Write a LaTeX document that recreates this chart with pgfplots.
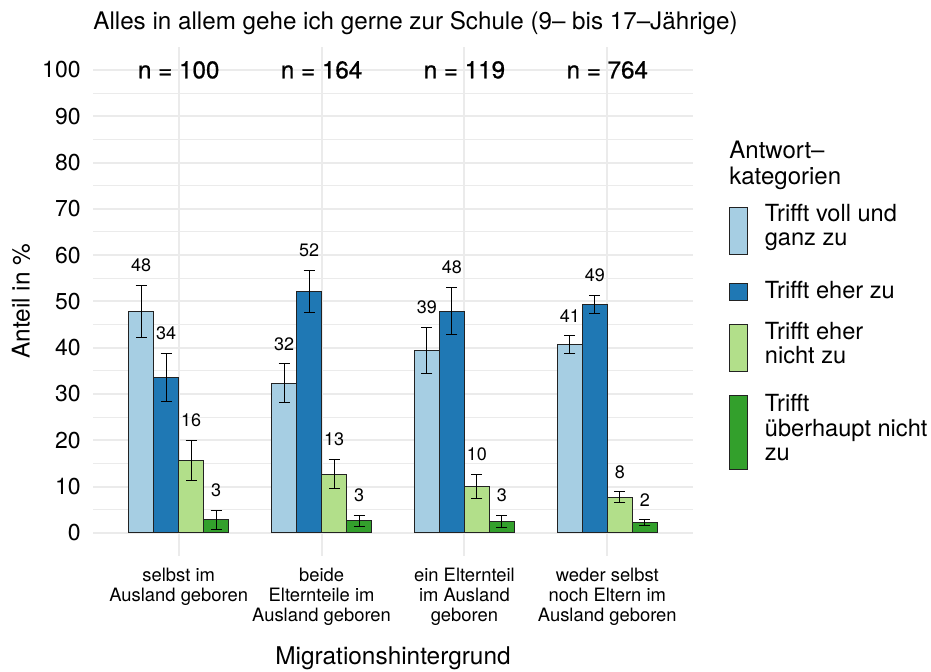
\documentclass[border=0pt]{standalone}
\usepackage{fontspec}
\setmainfont{TeX Gyre Heros}
\newfontface\nfont{TeX Gyre Heros}[FakeBold=0.8]
\usepackage{pgfplots}
\usepackage{pgfplotstable}
\pgfplotsset{compat=1.18}

\definecolor{cA}{HTML}{A6CEE3}
\definecolor{cB}{HTML}{1F78B4}
\definecolor{cC}{HTML}{B2DF8A}
\definecolor{cD}{HTML}{33A02C}
\definecolor{gridc}{HTML}{EBEBEB}
\definecolor{edge}{HTML}{222222}

% legend text: vertically centred on the key, without taking up row height
\newcommand\lgd[2][-2.9pt]{\raisebox{#1}{\smash{\begin{tabular}[c]{@{}l@{}}#2\end{tabular}}}}

% x = Balkenmitte (Gruppe +/- Versatz), y = Anteil, e = Fehler (+/-), lab = Beschriftung
\pgfplotstableread{
x y e lab
0.7375 47.9 5.6 48
1.7375 32.3 4.2 32
2.7375 39.4 4.95 39
3.7375 40.6 1.95 41
}\tA
\pgfplotstableread{
x y e lab
0.9125 33.5 5.2 34
1.9125 52.2 4.5 52
2.9125 47.9 5.1 48
3.9125 49.3 2.0 49
}\tB
\pgfplotstableread{
x y e lab
1.0875 15.6 4.35 16
2.0875 12.7 3.1 13
3.0875 10.0 2.6 10
4.0875 7.7 1.15 8
}\tC
\pgfplotstableread{
x y e lab
1.2625 2.8 2.05 3
2.2625 2.6 1.2 3
3.2625 2.5 1.3 3
4.2625 2.2 0.65 2
}\tD

\pgfplotsset{
  mybar/.style={
    ybar, bar width=12.5pt, bar shift=0pt,
    draw=edge, line width=0.5pt, fill=#1,
    error bars/y dir=both, error bars/y explicit,
    error bars/error bar style={black, line width=0.5pt},
    error bars/error mark options={rotate=90, mark size=2.75pt, line width=0.5pt, black},
    nodes near coords, point meta=explicit,
    visualization depends on={\thisrow{e}\as\err},
    every node near coord/.append style={font=\fontsize{9}{9}\selectfont, text=black,
      anchor=south, inner sep=0pt, yshift={\err*2.3145+6.5}},
  },
  % key: fill colour, half height, extra blank room above the key
  mykey/.style n args={3}{
    legend image code/.code={\path[draw=none, fill=none] (0pt,-#2) -- (0pt,#2+#3);
      \draw[fill=#1, draw=edge, line width=0.5pt] (0pt,-#2) rectangle (8.75pt,#2);}
  },
}

\begin{document}
\begin{tikzpicture}
\path[use as bounding box] (0,0) rectangle (465.5pt,336pt);
\begin{axis}[
    at={(46.5pt,58pt)}, anchor=south west,
    scale only axis, width=300pt, height=254.6pt,
    xmin=0.4, xmax=4.6, ymin=-5, ymax=105,
    clip=false,
    axis line style={draw=none},
    major tick length=0pt, minor tick length=0pt,
    xtick={1,2,3,4},
    xticklabels={{selbst im\\Ausland geboren},{beide\\Elternteile im\\Ausland geboren},{ein Elternteil\\im Ausland\\geboren},{weder selbst\\noch Eltern im\\Ausland geboren}},
    xticklabel style={align=center, anchor=north, inner sep=0pt, yshift=-6pt,
      font=\fontsize{9.2}{10}\selectfont},
    ytick={0,10,...,100},
    minor ytick={5,15,...,95},
    yticklabel style={anchor=east, inner sep=0pt, xshift=-6pt, font=\fontsize{11.5}{12}\selectfont},
    /pgf/number format/assume math mode=true,
    xmajorgrids, ymajorgrids, yminorgrids,
    major grid style={gridc, line width=1pt},
    minor grid style={gridc, line width=0.5pt},
    xlabel={Migrationshintergrund},
    ylabel={Anteil in \%},
    every axis x label/.style={at={(0.5,-0.201)}, anchor=center, font=\fontsize{12.2}{12}\selectfont},
    every axis y label/.style={at={(-0.12,0.5)}, rotate=90, anchor=center, font=\fontsize{12.2}{12}\selectfont},
    legend style={at={(1.06,0.687)}, anchor=north west, draw=none, fill=none,
      inner sep=0pt, row sep=11.5pt, font=\fontsize{11.8}{12}\selectfont,
      cells={anchor=west, inner sep=0pt},
      /tikz/every odd column/.append style={column sep=6.5pt}},
    legend cell align=left,
]
\addplot[mybar=cA, mykey={cA}{11.75pt}{0pt}] table[x=x, y=y, y error=e, meta=lab] {\tA};
\addplot[mybar=cB, mykey={cB}{4.25pt}{3pt}] table[x=x, y=y, y error=e, meta=lab] {\tB};
\addplot[mybar=cC, mykey={cC}{11.75pt}{0pt}] table[x=x, y=y, y error=e, meta=lab] {\tC};
\addplot[mybar=cD, mykey={cD}{18.5pt}{0pt}] table[x=x, y=y, y error=e, meta=lab] {\tD};
\legend{\lgd{Trifft voll und\\ganz zu}, \lgd[-4.4pt]{Trifft eher zu}, \lgd{Trifft eher\\nicht zu}, \lgd{Trifft\\überhaupt nicht\\zu}}

\addplot[forget plot, draw=none, mark=none, nodes near coords, point meta=explicit symbolic,
  every node near coord/.style={anchor=center, inner sep=0pt, text=black,
    font=\nfont\fontsize{12.1}{12}\selectfont}]
  coordinates {(1,100) [n = 100] (2,100) [n = 164] (3,100) [n = 119] (4,100) [n = 764]};

\node[anchor=base west, inner sep=0pt, font=\fontsize{12.1}{12}\selectfont]
  at (rel axis cs:0,1.033) {Alles in allem gehe ich gerne zur Schule (9– bis 17–Jährige)};
\node[anchor=north west, inner sep=0pt, align=left, font=\fontsize{12}{13}\selectfont]
  at (rel axis cs:1.06,0.816) {Antwort–\\kategorien};
\end{axis}
\end{tikzpicture}
\end{document}
